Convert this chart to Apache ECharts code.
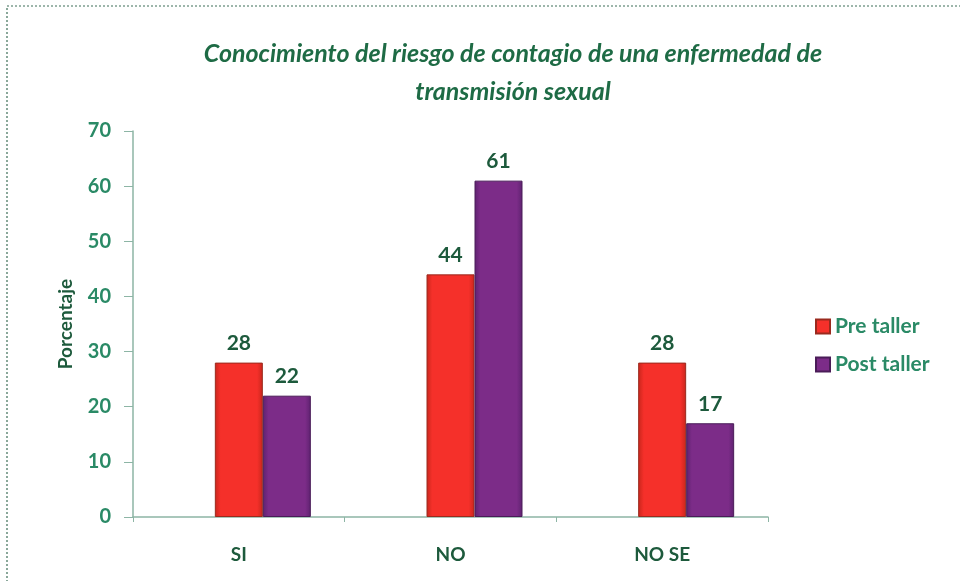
<!DOCTYPE html>
<html>
<head>
<meta charset="utf-8">
<script src="https://cdn.jsdelivr.net/npm/echarts@6/dist/echarts.min.js"></script>
<style>
  html, body { margin: 0; padding: 0; background: #fff; }
  #chart { width: 960px; height: 581px; }
</style>
</head>
<body>
<div id="chart"></div>
<script>
const categories = ['SI', 'NO', 'NO SE'];
const preTaller = [28, 44, 28];
const postTaller = [22, 61, 17];
const yTicks = { min: 0, max: 70, interval: 10 };

const chart = echarts.init(document.getElementById('chart'));

const labelStyle = {
  show: true,
  position: 'top',
  distance: 9,
  color: '#1d5a3c',
  fontFamily: 'Lato',
  fontWeight: 'bold',
  fontSize: 21
};

const option = {
  backgroundColor: '#fff',
  title: {
    text: 'Conocimiento del riesgo de contagio de una enfermedad de\ntransmisión sexual',
    left: 508,
    top: 30,
    textAlign: 'center',
    textStyle: {
      color: '#1e6b45',
      fontFamily: 'Lato',
      fontStyle: 'italic',
      fontWeight: 'bold',
      fontSize: 25,
      lineHeight: 38
    }
  },
  legend: {
    data: ['Pre taller', 'Post taller'],
    orient: 'vertical',
    left: 810,
    top: 311,
    itemWidth: 14,
    itemHeight: 14,
    itemGap: 17,
    icon: 'rect',
    textStyle: {
      color: '#2a8a66',
      fontFamily: 'Lato',
      fontWeight: 'bold',
      fontSize: 21
    }
  },
  grid: { left: 133, right: 192, top: 131, bottom: 64 },
  xAxis: {
    type: 'category',
    data: categories,
    axisLine: { lineStyle: { color: '#8db5a5', width: 1.5 } },
    axisTick: { show: true, length: 5, lineStyle: { color: '#8db5a5' } },
    axisLabel: {
      margin: 28,
      color: '#1d5a3c',
      fontFamily: 'Lato',
      fontWeight: 'bold',
      fontSize: 19
    }
  },
  yAxis: {
    type: 'value',
    min: yTicks.min,
    max: yTicks.max,
    interval: yTicks.interval,
    name: 'Porcentaje',
    nameLocation: 'middle',
    nameGap: 58,
    nameTextStyle: {
      color: '#1d5a3c',
      fontFamily: 'Lato',
      fontWeight: 'bold',
      fontSize: 19
    },
    splitLine: { show: false },
    axisLine: { show: true, lineStyle: { color: '#8db5a5', width: 1.5 } },
    axisTick: { show: true, length: 9, lineStyle: { color: '#8db5a5' } },
    axisLabel: {
      margin: 22,
      color: '#2a8a66',
      fontFamily: 'Lato',
      fontWeight: 'bold',
      fontSize: 20
    }
  },
  graphic: [{
    type: 'rect',
    shape: { x: 7, y: 6, width: 1000, height: 620 },
    style: { fill: 'none', stroke: '#3c6e58', lineWidth: 1.2, lineDash: [2, 2] },
    silent: true
  }],
  series: [
    {
      // empty spacer so the pair of bars sits right of each category centre
      name: 'spacer',
      type: 'bar',
      data: categories.map(() => null),
      barWidth: 48,
      barGap: '0%',
      silent: true
    },
    {
      name: 'Pre taller',
      type: 'bar',
      data: preTaller,
      barWidth: 48,
      barGap: '0%',
      itemStyle: {
        color: new echarts.graphic.LinearGradient(0, 0, 1, 0, [
          { offset: 0, color: '#c8261c' },
          { offset: 0.12, color: '#f5302a' },
          { offset: 0.88, color: '#f5302a' },
          { offset: 1, color: '#c8261c' }
        ]),
        borderColor: '#9a2a1e',
        borderWidth: 1
      },
      label: labelStyle
    },
    {
      name: 'Post taller',
      type: 'bar',
      data: postTaller,
      barWidth: 48,
      barGap: '0%',
      itemStyle: {
        color: new echarts.graphic.LinearGradient(0, 0, 1, 0, [
          { offset: 0, color: '#5e2270' },
          { offset: 0.12, color: '#7c2c88' },
          { offset: 0.88, color: '#7c2c88' },
          { offset: 1, color: '#5e2270' }
        ]),
        borderColor: '#4a1c58',
        borderWidth: 1
      },
      label: labelStyle
    }
  ]
};

chart.setOption(option);
</script>
</body>
</html>
